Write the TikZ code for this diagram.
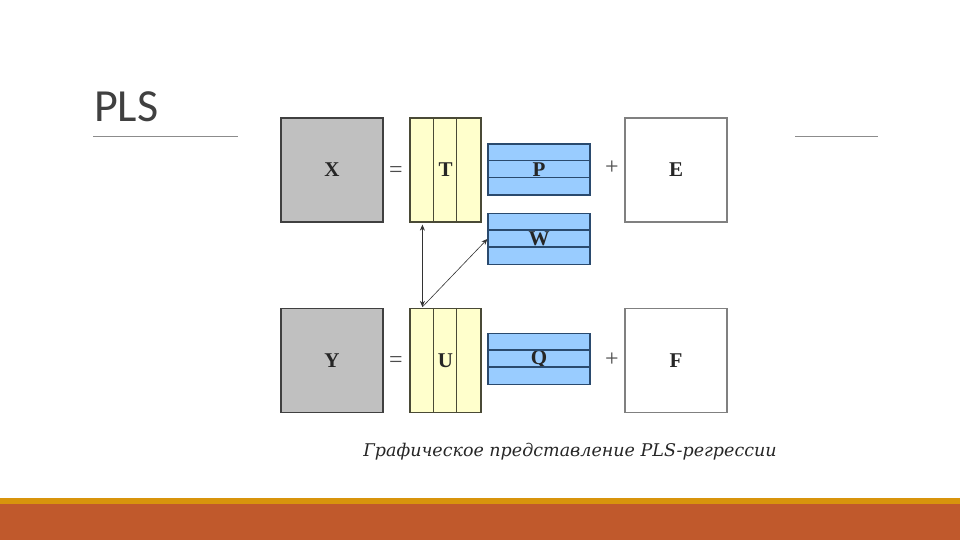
\documentclass[tikz,border=0pt]{standalone}
\usepackage{fontspec}
\setmainfont{Liberation Serif}
\newfontfamily\titlefont{Carlito}
\newfontfamily\capfont{DejaVu Serif}
\usetikzlibrary{calc, arrows.meta, positioning}

\definecolor{matgray}{HTML}{C0C0C0}
\definecolor{matyellow}{HTML}{FFFFCC}
\definecolor{matblue}{HTML}{99CCFF}
\definecolor{loadedge}{HTML}{2A4A6E}
\definecolor{scoreedge}{HTML}{4A4A36}
\definecolor{bargold}{HTML}{D8940C}
\definecolor{barrust}{HTML}{C0592C}
\definecolor{titlegray}{HTML}{404040}

\tikzset{
    matrixbox/.style={draw, line width=1.2pt, minimum width=102pt, minimum height=104pt,
        inner sep=0pt, font=\bfseries\fontsize{21}{21}\selectfont, text=black!85},
    graybox/.style={matrixbox, fill=matgray, draw=black!75},
    whitebox/.style={matrixbox, fill=white, draw=black!50, line width=1.5pt},
    scorebox/.style={matrixbox, fill=matyellow, draw=scoreedge, minimum width=71pt},
    loadbox/.style={matrixbox, fill=matblue, draw=loadedge, minimum height=51pt},
    opsign/.style={font=\fontsize{24}{24}\selectfont, text=black!70},
    rule/.style={black!45, line width=0.8pt},
    link/.style={black!80, line width=0.8pt, -{Stealth[length=6pt, width=5pt]}}
}

\begin{document}
\begin{tikzpicture}[x=1pt, y=-1pt]

    % ==========================================
    % PAGE FRAME
    % ==========================================
    \useasboundingbox (0,0) rectangle (960,540);
    \fill[white] (0,0) rectangle (960,540);
    \fill[bargold] (0,498) rectangle (960,503.5);
    \fill[barrust] (0,503.5) rectangle (960,540);

    % Title and rules
    \node[anchor=base west, inner sep=0pt, text=titlegray,
        font=\titlefont\fontsize{46}{46}\selectfont] (title) at (94,122) {PLS};
    \draw[rule] (93,136) -- (238,136);
    \draw[rule] (795,136) -- (878,136);

    % ==========================================
    % X BLOCK: X = T P + E
    % ==========================================
    \node[graybox]  (X) at (332,170) {X};
    \node[opsign]   (eqX) at (396,172) {=};
    \node[scorebox] (T) at (445.5,170) {T};
    \node[loadbox]  (P) at (539,169.5) {P};
    \node[opsign]   (plusX) at (612,168) {+};
    \node[whitebox] (E) at (676,170) {E};

    % ==========================================
    % WEIGHTS
    % ==========================================
    \node[loadbox]  (W) at (539,239) {W};

    % ==========================================
    % Y BLOCK: Y = U Q + F
    % ==========================================
    \node[graybox]  (Y) at (332,360.5) {Y};
    \node[opsign]   (eqY) at (396,362) {=};
    \node[scorebox] (U) at (445.5,360.5) {U};
    \node[loadbox]  (Q) at (539,359) {Q};
    \node[opsign]   (plusY) at (612,360) {+};
    \node[whitebox] (F) at (676,360.5) {F};

    % Column lines in the score blocks
    \foreach \s in {T, U} {
        \draw[scoreedge, line width=1.6pt] ($(\s.north west)+(24,0)$) -- ($(\s.south west)+(24,0)$);
        \draw[scoreedge, line width=1.6pt] ($(\s.north west)+(47,0)$) -- ($(\s.south west)+(47,0)$);
    }
    % Row lines in the loading blocks
    \foreach \l in {P, W, Q} {
        \draw[loadedge, line width=1.2pt] ($(\l.north west)+(0,17)$) -- ($(\l.north east)+(0,17)$);
        \draw[loadedge, line width=1.2pt] ($(\l.north west)+(0,34)$) -- ($(\l.north east)+(0,34)$);
    }

    % ==========================================
    % LINKS
    % ==========================================
    \coordinate (Tfoot) at ($(T.south west)+(13,2)$);
    \coordinate (Uhead) at ($(U.north west)+(13,-1)$);
    \draw[link, {Stealth[length=6pt, width=5pt]}-{Stealth[length=6pt, width=5pt]}] (Tfoot) -- (Uhead);
    \draw[link, line width=0.6pt] (Uhead) -- (W.west);

    % Caption
    \node[font=\capfont\itshape\fontsize{17.5}{17.5}\selectfont, text=black!85, inner sep=0pt]
        (caption) at (570,452) {Графическое представление PLS-регрессии};

\end{tikzpicture}
\end{document}
